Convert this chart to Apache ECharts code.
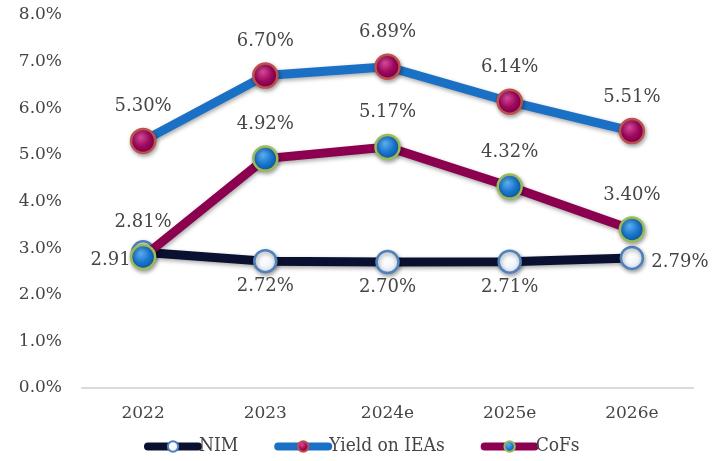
<!DOCTYPE html>
<html>
<head>
<meta charset="utf-8">
<script src="https://cdn.jsdelivr.net/npm/echarts@6/dist/echarts.min.js"></script>
<style>
  html, body { margin: 0; padding: 0; background: #fff; }
  #chart { width: 723px; height: 461px; }
</style>
</head>
<body>
<div id="chart"></div>
<script>
const years = ['2022', '2023', '2024e', '2025e', '2026e'];
const nim = [2.91, 2.72, 2.70, 2.71, 2.79];
const yieldIEA = [5.30, 6.70, 6.89, 6.14, 5.51];
const cofs = [2.81, 4.92, 5.17, 4.32, 3.40];

const font = '"DejaVu Serif", serif';
const txt = '#454545';

// ball-like marker fill
const ball = (light, mid, dark) => ({
  type: 'radial', x: 0.4, y: 0.35, r: 0.7,
  colorStops: [
    { offset: 0, color: light },
    { offset: 0.5, color: mid },
    { offset: 1, color: dark }
  ]
});

const chart = echarts.init(document.getElementById('chart'));

const shadow = { shadowColor: 'rgba(0,0,0,0.35)', shadowBlur: 4, shadowOffsetX: 1, shadowOffsetY: 2 };
const pct = p => p.value.toFixed(2) + '%';

chart.setOption({
  animation: false,
  textStyle: { fontFamily: font },
  grid: { left: 82, right: 30, top: 15, bottom: 73 },
  legend: {
    bottom: 0,
    left: 139,
    itemWidth: 50,
    itemHeight: 13,
    itemGap: 36,
    lineStyle: { width: 8, cap: 'round' },
    textStyle: { fontFamily: '"DejaVu Serif Condensed", "DejaVu Serif", serif', fontSize: 19, color: txt, padding: [0, 0, 0, -4] },
    data: ['NIM', 'Yield on IEAs', 'CoFs']
  },
  xAxis: {
    type: 'category',
    data: years,
    axisLine: { lineStyle: { color: '#d9d9d9', width: 2 } },
    axisTick: { show: false },
    axisLabel: { color: txt, fontSize: 17, margin: 17, fontFamily: font }
  },
  yAxis: {
    type: 'value',
    min: 0, max: 8, interval: 1,
    splitLine: { show: false },
    axisLine: { show: false },
    axisTick: { show: false },
    axisLabel: {
      color: txt, fontSize: 17, margin: 20, fontFamily: font,
      formatter: v => v.toFixed(1) + '%'
    }
  },
  series: [
    {
      name: 'NIM',
      type: 'line',
      data: nim,
      symbol: 'circle',
      symbolSize: 22,
      lineStyle: { color: '#0a1030', width: 9, ...shadow },
      itemStyle: { color: ball('#ffffff', '#f4f7fb', '#d6e0ee'), borderColor: '#4f81bd', borderWidth: 2.5, ...shadow },
      label: {
        show: true, position: 'bottom', distance: 4,
        color: txt, fontSize: 18, fontFamily: font,
        formatter: pct
      },
      labelLayout: p => {
        if (p.dataIndex === 0) return { dx: -24, dy: -17 };
        if (p.dataIndex === 4) return { dx: 48, dy: -21 };
        return {};
      },
      z: 2
    },
    {
      name: 'Yield on IEAs',
      type: 'line',
      data: yieldIEA,
      symbol: 'circle',
      symbolSize: 24,
      lineStyle: { color: '#1a70c4', width: 9, ...shadow },
      itemStyle: { color: ball('#d84a9a', '#a0095f', '#6e0040'), borderColor: '#c0504d', borderWidth: 2.5, ...shadow },
      label: {
        show: true, position: 'top', distance: 12,
        color: txt, fontSize: 18, fontFamily: font,
        formatter: pct
      },
      z: 3
    },
    {
      name: 'CoFs',
      type: 'line',
      data: cofs,
      symbol: 'circle',
      symbolSize: 24,
      lineStyle: { color: '#8c0050', width: 9, ...shadow },
      itemStyle: { color: ball('#5fb0f0', '#1a78d0', '#0d4f90'), borderColor: '#9bbb59', borderWidth: 2.5, ...shadow },
      label: {
        show: true, position: 'top', distance: 12,
        color: txt, fontSize: 18, fontFamily: font,
        formatter: pct
      },
      z: 4
    }
  ]
});
</script>
</body>
</html>
